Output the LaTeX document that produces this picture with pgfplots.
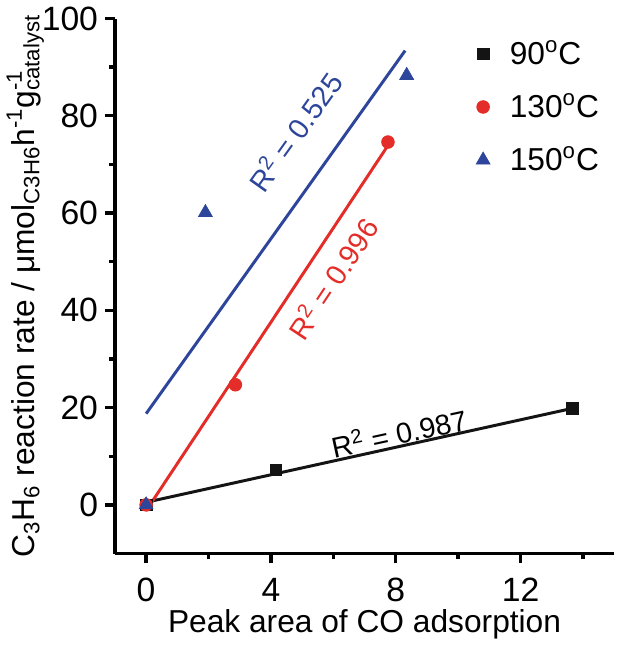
\documentclass[border=0pt]{standalone}
\usepackage{fontspec}
\setmainfont{Liberation Sans}
\usepackage{pgfplots}
\pgfplotsset{compat=1.18}
\definecolor{c90}{RGB}{20,20,20}
\definecolor{c130}{RGB}{228,45,40}
\definecolor{c150}{RGB}{45,70,155}
\newcommand{\lbl}{\fontsize{16}{19}\selectfont}
\begin{document}
\begin{tikzpicture}
\begin{axis}[
  scale only axis,
  width=252pt, height=270pt,
  xmin=-1, xmax=15, ymin=-10, ymax=100,
  axis x line*=bottom, axis y line*=left,
  axis line style={line width=1.9pt},
  xtick={0,4,8,12}, minor xtick={2,6,10,14},
  ytick={0,20,...,100}, minor ytick={10,30,...,90},
  tick align=outside,
  major tick length=5pt, minor tick length=3pt,
  tick style={line width=1.7pt, black},
  /pgf/number format/assume math mode=true,
  tick label style={font=\fontsize{17}{20}\selectfont},
  xticklabel style={yshift=-4pt},
  xlabel={Peak area of CO adsorption},
  ylabel={C\textsubscript{3}H\textsubscript{6} reaction rate / μmol\textsubscript{C3H6}h\textsuperscript{-1}g\rlap{\textsuperscript{-1}}\textsubscript{catalyst}},
  label style={font=\lbl},
  xlabel style={yshift=3pt},
  ylabel style={yshift=-8pt},
  legend style={draw=none, fill=none, at={(0.99,0.975)}, anchor=north east,
    font=\lbl, row sep=9pt},
  legend cell align=left,
]
% fit lines
\addplot[c90, line width=1.5pt, forget plot] coordinates {(0,0.53) (13.65,19.83)};
\addplot[c130, line width=1.5pt, forget plot] coordinates {(0,-1.2) (7.75,73.9)};
\addplot[c150, line width=1.5pt, forget plot] coordinates {(0,18.75) (8.3,93.4)};
% data
\addplot[only marks, mark=square*, mark size=3pt, c90] coordinates {(0,0) (4.16,7.2) (13.65,19.8)};
\addlegendentry{\hspace*{8pt}90\textsuperscript{o}C}
\addplot[only marks, mark=*, mark size=3.2pt, c130] coordinates {(0,0) (2.86,24.7) (7.75,74.6)};
\addlegendentry{\hspace*{8pt}130\textsuperscript{o}C}
\addplot[only marks, mark=triangle*, mark size=4pt, c150] coordinates {(0,0) (1.9,60.1) (8.35,88.3)};
\addlegendentry{\hspace*{8pt}150\textsuperscript{o}C}
% R^2 labels
\node[rotate=54.5, text=c150, font=\fontsize{14.5}{16}\selectfont] at (axis cs:4.76,76.7) {R\textsuperscript{2} = 0.525};
\node[rotate=56.4, text=c130, font=\fontsize{14.5}{16}\selectfont] at (axis cs:5.97,46.6) {R\textsuperscript{2} = 0.996};
\node[rotate=12.2, text=black, font=\fontsize{14.5}{16}\selectfont] at (axis cs:8.1,14.9) {R\textsuperscript{2} = 0.987};
\end{axis}
\end{tikzpicture}
\end{document}
